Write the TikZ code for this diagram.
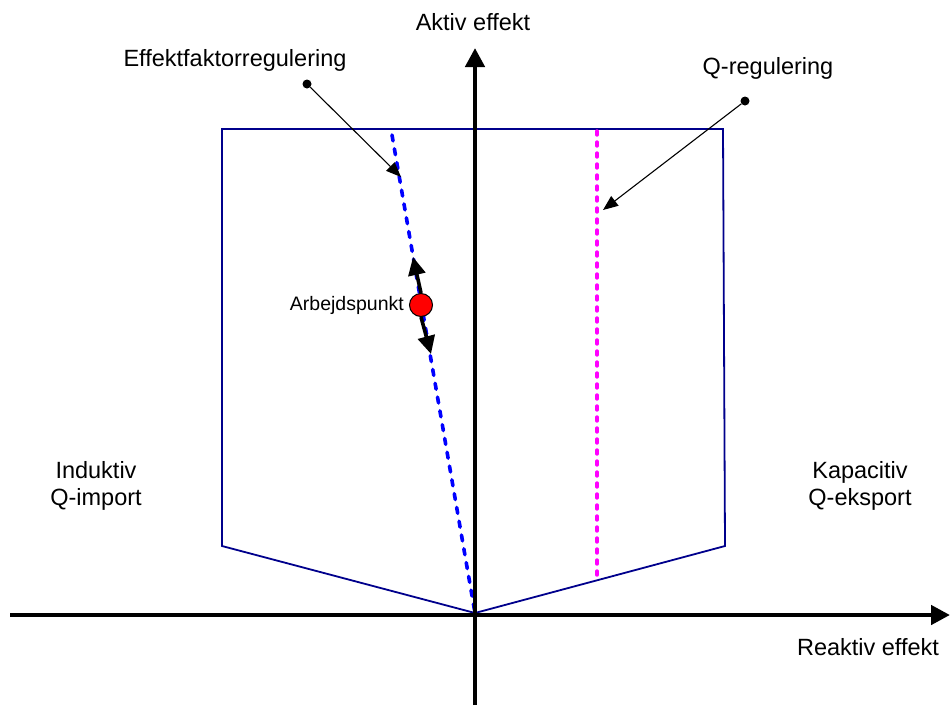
\documentclass[tikz,border=0pt]{standalone}
\usepackage{fontspec}
\setmainfont{Liberation Sans}
\usetikzlibrary{arrows.meta}
\definecolor{navyline}{RGB}{0,0,140}
\definecolor{pfblue}{RGB}{0,0,255}
\definecolor{qmag}{RGB}{255,0,255}
\definecolor{apred}{RGB}{255,0,0}
\begin{document}
\begin{tikzpicture}[x=1pt,y=-1pt,
  axis/.style={line width=4.5pt,-{Triangle[length=19pt,width=19pt]}},
  region/.style={navyline,line width=1.8pt,line join=miter},
  pfline/.style={pfblue,line width=3.6pt,line cap=round,dash pattern=on 6pt off 8pt},
  qline/.style={qmag,line width=3.4pt,line cap=round,dash pattern=on 4pt off 7pt},
  callout/.style={line width=1.1pt,-{Triangle[length=15pt,width=12pt]}},
  movearrow/.style={line width=3.6pt,-{Triangle[length=18pt,width=17pt]}},
  lbl/.style={font=\fontsize{23.5}{27}\selectfont,align=center,inner sep=0pt},
  slbl/.style={font=\fontsize{19.5}{23}\selectfont,inner sep=0pt}]
\useasboundingbox (0,0) rectangle (950,705);
% coordinates
\coordinate (O) at (475,613);
\coordinate (TL) at (222,129);
\coordinate (TR) at (723,129);
\coordinate (BR) at (725,546);
\coordinate (BL) at (222,546);
\coordinate (PFtop) at (392,135);
\coordinate (Qtop) at (597,131);
\coordinate (Qbot) at (597,580);
% region
\draw[region] (TL) -- (TR) -- (BR) -- (O) -- (BL) -- cycle;
% regulation lines
\draw[pfline] (PFtop) -- (O);
\draw[qline] (Qtop) -- (Qbot);
% axes
\coordinate (xs) at (10,615);
\coordinate (xe) at (950,615);
\coordinate (ys) at (475,705);
\coordinate (ye) at (475,48);
\draw[axis] (xs) -- (xe);
\draw[axis] (ys) -- (ye);
% operating point
\node[circle,fill=apred,draw=black,line width=1pt,minimum size=23pt,inner sep=0pt] (ap) at (421,305) {};
\coordinate (up) at (413,257);
\coordinate (dn) at (431,354);
\draw[movearrow] (ap.north) -- (up);
\draw[movearrow] (ap.south) -- (dn);
\node[slbl,anchor=east] (aplbl) at (404,305) {Arbejdspunkt};
% callouts
\node[circle,fill=black,minimum size=9pt,inner sep=0pt] (d1) at (307,84) {};
\coordinate (t1) at (401,177);
\draw[callout] (d1) -- (t1);
\node[circle,fill=black,minimum size=9pt,inner sep=0pt] (d2) at (745,101) {};
\coordinate (t2) at (603,210);
\draw[callout] (d2) -- (t2);
% labels
\node[lbl] (aktiv) at (473,22) {Aktiv effekt};
\node[lbl] (pf) at (235,60) {Effektfaktorregulering};
\node[lbl] (q) at (768,68) {Q-regulering};
\node[lbl] (ind) at (96,486) {Induktiv\\Q-import};
\node[lbl] (kap) at (860,486) {Kapacitiv\\Q-eksport};
\node[lbl] (reaktiv) at (868,647) {Reaktiv effekt};
\end{tikzpicture}
\end{document}
